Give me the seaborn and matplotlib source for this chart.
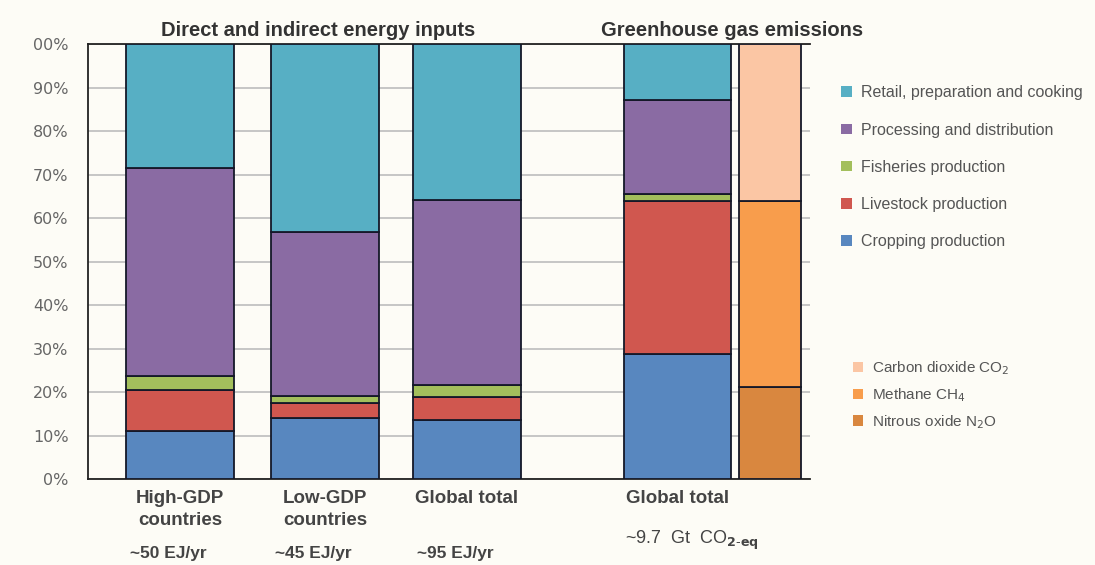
import matplotlib
matplotlib.use("Agg")
import matplotlib.pyplot as plt
from matplotlib.patches import Patch
import seaborn as sns

# ---- data (shares, %) ----
energy_groups = ["High-GDP\ncountries", "Low-GDP\ncountries", "Global total"]
energy_totals = ["~50 EJ/yr", "~45 EJ/yr", "~95 EJ/yr"]
stages = ["Cropping production", "Livestock production", "Fisheries production",
          "Processing and distribution", "Retail, preparation and cooking"]
cropping = [11.0, 14.0, 13.5]
livestock = [9.5, 3.5, 5.4]
fisheries = [3.2, 1.5, 2.7]
processing = [47.8, 37.8, 42.5]
retail = [28.5, 43.2, 35.9]

ghg_cropping = 28.7
ghg_livestock = 35.2
ghg_fisheries = 1.6
ghg_processing = 21.6
ghg_retail = 12.9

gases = ["Nitrous oxide N$_2$O", "Methane CH$_4$", "Carbon dioxide CO$_2$"]
gas_shares = [21.1, 42.8, 36.1]

ytick_values = [0, 10, 20, 30, 40, 50, 60, 70, 80, 90, 100]
ytick_labels = ["0%", "10%", "20%", "30%", "40%", "50%", "60%", "70%", "80%", "90%", "00%"]

# ---- style ----
sns.set_theme(style="white")
plt.rcParams["font.family"] = ["Liberation Sans", "DejaVu Sans"]

bg = "#FDFCF6"
stage_colors = ["#5887BF", "#D0574F", "#A3BF5C", "#8A6BA3", "#57AFC4"]
gas_colors = ["#D9873F", "#F89D4C", "#FBC6A4"]
edge = "#141828"
text_col = "#444444"

fig = plt.figure(figsize=(10.95, 5.65), dpi=100, facecolor=bg)
ax = fig.add_axes([88 / 1095, 0.1522, 722 / 1095, 0.7699])
ax.set_facecolor(bg)

# layout (bar centres / widths in axis units)
energy_x = [0.0, 1.0, 1.98]
bar_w = 0.745
ghg_x = 3.43
ghg_w = 0.738
gas_x = 4.07
gas_w = 0.428

stacks = [cropping, livestock, fisheries, processing, retail]
bottom = [0.0, 0.0, 0.0]
for vals, col in zip(stacks, stage_colors):
    ax.bar(energy_x, vals, bottom=bottom, width=bar_w, color=col,
           edgecolor=edge, linewidth=1.3, zorder=3)
    bottom = [b + v for b, v in zip(bottom, vals)]

ghg_vals = [ghg_cropping, ghg_livestock, ghg_fisheries, ghg_processing, ghg_retail]
b = 0.0
for v, col in zip(ghg_vals, stage_colors):
    ax.bar(ghg_x, v, bottom=b, width=ghg_w, color=col, edgecolor=edge,
           linewidth=1.3, zorder=3)
    b += v

b = 0.0
for v, col in zip(gas_shares, gas_colors):
    ax.bar(gas_x, v, bottom=b, width=gas_w, color=col, edgecolor=edge,
           linewidth=1.3, zorder=3)
    b += v

ax.set_xlim(-0.634, 4.345)
ax.set_ylim(0, 100)
ax.set_yticks(ytick_values)
ax.set_yticklabels(ytick_labels, color="#666666", fontsize=11.5,
                   family="DejaVu Sans")
ax.tick_params(axis="y", length=0, pad=14)
ax.set_xticks([])
ax.yaxis.grid(True, color="#BDBDBD", linewidth=1.2, zorder=0)
ax.set_axisbelow(True)

for s in ["left", "bottom", "top"]:
    ax.spines[s].set_visible(True)
    ax.spines[s].set_color("#222222")
    ax.spines[s].set_linewidth(1.3)
ax.spines["right"].set_visible(False)

# category labels under the bars
trans = ax.get_xaxis_transform()
for x, name, tot in zip(energy_x, energy_groups, energy_totals):
    ax.text(x, -0.025, name, transform=trans, ha="center", va="top",
            fontsize=13.5, fontweight="bold", color=text_col, linespacing=1.4)
    ax.text(x - 0.08, -0.155, tot, transform=trans, ha="center", va="top",
            fontsize=12.5, fontweight="bold", color=text_col)
ax.text(ghg_x, -0.025, "Global total", transform=trans, ha="center", va="top",
        fontsize=13.5, fontweight="bold", color=text_col)
ax.text(ghg_x + 0.1, -0.115, "~9.7  Gt  CO$_{\\mathbf{2\\text{-}eq}}$", transform=trans,
        ha="center", va="top", fontsize=13, color=text_col)

# panel headings
fig.text(318 / 1095, 1 - 30 / 565, "Direct and indirect energy inputs", ha="center",
         va="center", fontsize=14.5, fontweight="bold", color="#333333")
fig.text(732 / 1095, 1 - 31 / 565, "Greenhouse gas emissions", ha="center",
         va="center", fontsize=14.5, fontweight="bold", color="#333333")

# legends
stage_handles = [Patch(facecolor=c, edgecolor="none", label=l)
                 for c, l in zip(stage_colors[::-1], stages[::-1])]
leg1 = fig.legend(handles=stage_handles, loc="upper left",
                  bbox_to_anchor=(827 / 1095, 1 - 71 / 565), frameon=False,
                  fontsize=11.5, labelcolor="#555555", handlelength=0.65,
                  handleheight=0.65, handletextpad=0.55, labelspacing=1.39)
gas_handles = [Patch(facecolor=c, edgecolor="none", label=l)
               for c, l in zip(gas_colors[::-1], gases[::-1])]
leg2 = fig.legend(handles=gas_handles, loc="upper left",
                  bbox_to_anchor=(839 / 1095, 1 - 346 / 565), frameon=False,
                  fontsize=11, labelcolor="#555555", handlelength=0.65,
                  handleheight=0.65, handletextpad=0.6, labelspacing=0.58)

fig.savefig("out.png", dpi=100, facecolor=bg)
